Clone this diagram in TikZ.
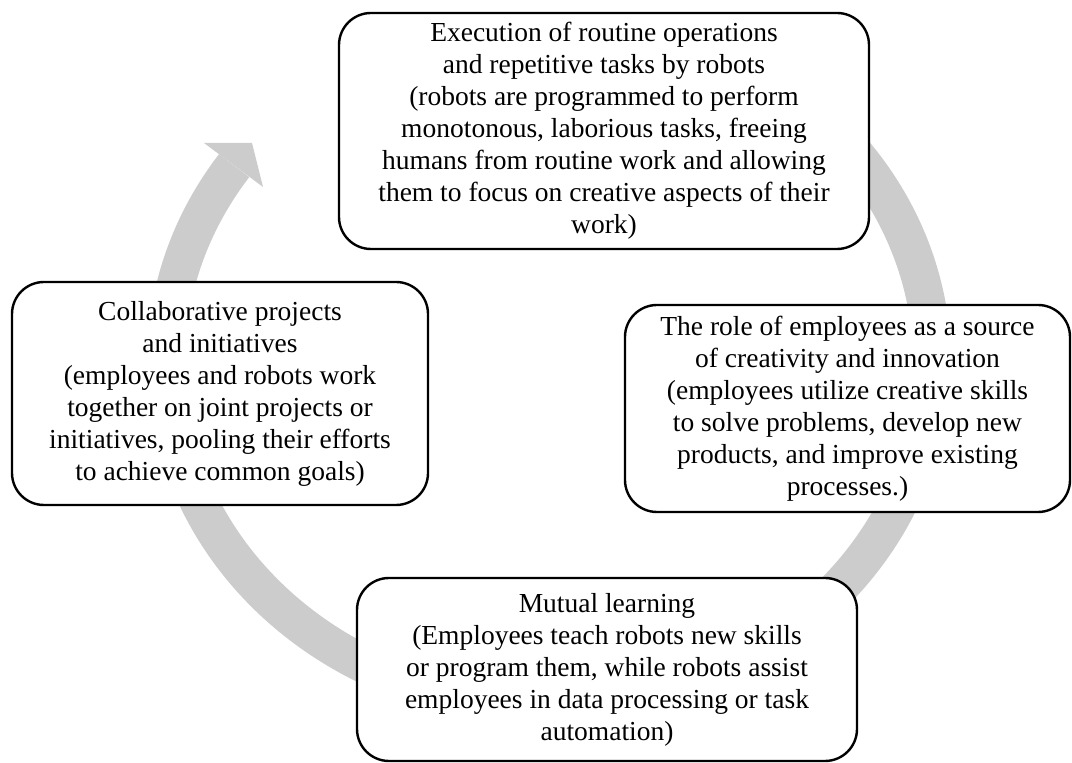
\documentclass[tikz,border=0pt]{standalone}
\usepackage{fontspec}
\setmainfont{Liberation Serif}
\definecolor{arcgray}{RGB}{204,204,204}
\begin{document}
\begin{tikzpicture}[x=1pt,y=1pt,
  box/.style={draw=black, line width=2.4pt, fill=white, rounded corners=32pt,
    align=center, font=\fontsize{27.5}{32}\selectfont, inner sep=0pt},
  cyclearc/.style={draw=arcgray, line width=38pt},
  arrowtip/.style={fill=arcgray}]
\useasboundingbox (0,0) rectangle (1072,763);
\coordinate (c) at (549,401);
\draw[cyclearc] (c) ++(60:383 and 345) arc[start angle=60, end angle=-214.7, x radius=383, y radius=345] coordinate (arcend);
\coordinate (b1) at (204,620);
\coordinate (tp) at (252,620);
\coordinate (b2) at (263,576);
\fill[arrowtip] (b1) -- (tp) -- (b2) -- cycle;

\node[box, minimum width=530pt, minimum height=236pt] (nT) at (604,632)
  {Execution of routine operations\\and repetitive tasks by robots\\(robots are programmed to perform\\monotonous, laborious tasks, freeing\\humans from routine work and allowing\\them to focus on creative aspects of their\\work)};
\node[box, minimum width=445pt, minimum height=207pt] (nR) at (847.5,354.5)
  {The role of employees as a source\\of creativity and innovation\\(employees utilize creative skills\\to solve problems, develop new\\products, and improve existing\\processes.)};
\node[box, minimum width=500pt, minimum height=183pt] (nB) at (607,93.5)
  {Mutual learning\\(Employees teach robots new skills\\or program them, while robots assist\\employees in data processing or task\\automation)};
\node[box, minimum width=416pt, minimum height=223pt] (nL) at (220,369.5)
  {Collaborative projects\\and initiatives\\(employees and robots work\\together on joint projects or\\initiatives, pooling their efforts\\to achieve common goals)};
\end{tikzpicture}
\end{document}
